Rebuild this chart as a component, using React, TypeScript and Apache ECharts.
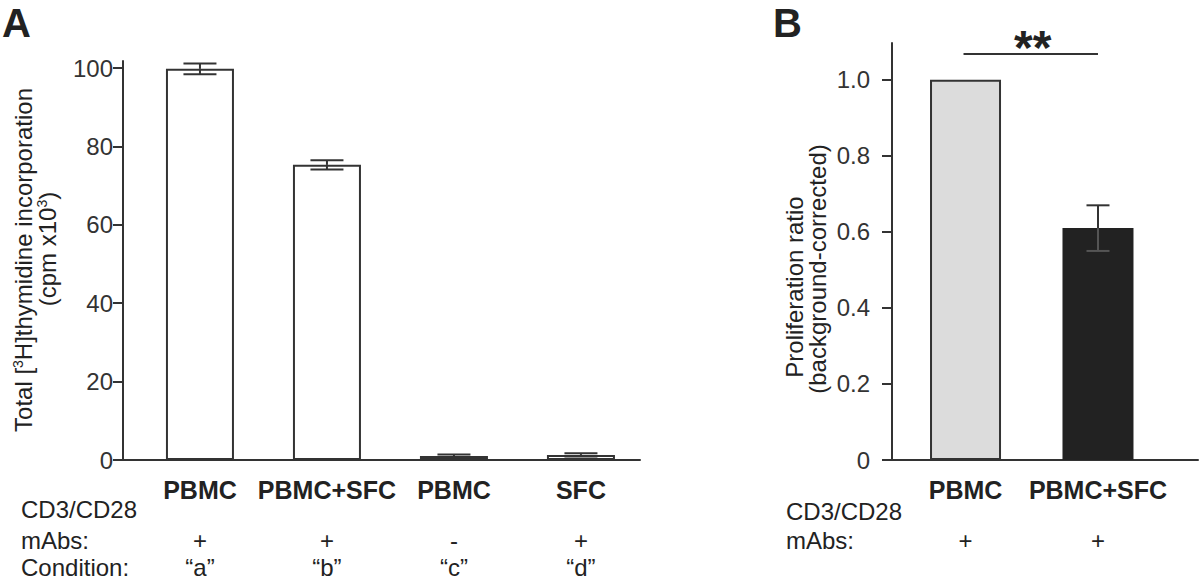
import React, { useEffect, useRef } from "react";
import * as echarts from "echarts";

// ---------- data ----------
const catsA = ["PBMC", "PBMC+SFC", "PBMC", "SFC"];
const valuesA = [99.8, 75.3, 1.0, 1.3];
const errA = [1.35, 1.2, 0.4, 0.4];
const mAbsA = ["+", "+", "-", "+"];
const conditionsA = ["\u201ca\u201d", "\u201cb\u201d", "\u201cc\u201d", "\u201cd\u201d"];
const ticksA = [0, 20, 40, 60, 80, 100];

const catsB = ["PBMC", "PBMC+SFC"];
const valuesB = [1.0, 0.61];
const errB = [0, 0.06];
const mAbsB = ["+", "+"];
const ticksB = [0, 0.2, 0.4, 0.6, 0.8, 1.0];
const colorsB = ["#dcdcdc", "#222222"];
const sigPair = [0, 1];
const sigLevel = 1.068;
const sigText = "**";

const FONT = "'Liberation Sans', Arial, Helvetica, sans-serif";
const INK = "#222";
const AXIS = "#333";

export default function App() {
  const ref = useRef<HTMLDivElement>(null);

  useEffect(() => {
    if (!ref.current) return;
    const chart = echarts.init(ref.current, null, { renderer: "svg" });

    const xA = { min: -0.606, max: 3.465 };
    const xB = { min: -0.555, max: 1.755 };

    const mkXAxis = (
      grid: number,
      range: { min: number; max: number },
      labels: string[],
      margin: number,
      main: boolean,
      bold: boolean,
      lineHeight?: number
    ) => ({
      type: "value",
      gridIndex: grid,
      position: "bottom",
      min: range.min,
      max: range.max,
      axisLine: { show: main, onZero: false, lineStyle: { color: AXIS, width: 2 } },
      axisTick: { show: false },
      splitLine: { show: false },
      axisLabel: {
        customValues: labels.map((_, i) => i),
        formatter: (v: number) => labels[Math.round(v)] ?? "",
        margin,
        verticalAlign: "middle",
        color: INK,
        fontFamily: FONT,
        fontSize: bold ? 25 : 24,
        fontWeight: bold ? "bold" : "normal",
        ...(lineHeight ? { lineHeight } : {}),
      },
    });

    const mkYAxis = (
      grid: number,
      max: number,
      ticks: number[],
      margin: number,
      fmt: (v: number) => string
    ) => ({
      type: "value",
      gridIndex: grid,
      min: 0,
      max,
      axisLine: { show: true, onZero: false, lineStyle: { color: AXIS, width: 2 } },
      axisTick: {
        show: true,
        customValues: ticks,
        length: 10,
        lineStyle: { color: AXIS, width: 2 },
      },
      splitLine: { show: false },
      axisLabel: {
        customValues: ticks,
        formatter: fmt,
        margin,
        color: "#333",
        fontFamily: FONT,
        fontSize: 24,
      },
    });

    const errRender = (capHalf: number, upColor: string, lowColor: string) =>
      (params: any, api: any) => {
        const x = api.value(0);
        const m = api.value(1);
        const e = api.value(2);
        if (!e) return { type: "group", children: [] };
        const mid = api.coord([x, m]);
        const top = api.coord([x, m + e]);
        const bot = api.coord([x, m - e]);
        const up = { stroke: upColor, lineWidth: 2 };
        const lo = { stroke: lowColor, lineWidth: 2 };
        return {
          type: "group",
          children: [
            { type: "line", shape: { x1: mid[0], y1: mid[1], x2: top[0], y2: top[1] }, style: up },
            { type: "line", shape: { x1: mid[0], y1: mid[1], x2: bot[0], y2: bot[1] }, style: lo },
            { type: "line", shape: { x1: top[0] - capHalf, y1: top[1], x2: top[0] + capHalf, y2: top[1] }, style: up },
            { type: "line", shape: { x1: bot[0] - capHalf, y1: bot[1], x2: bot[0] + capHalf, y2: bot[1] }, style: lo },
          ],
        };
      };

    const rowLabel = (text: string, x: number, y: number, lh = 24) => ({
      type: "text",
      x,
      y,
      style: {
        text,
        fill: INK,
        fontFamily: FONT,
        fontSize: 24,
        lineHeight: lh,
        align: "left",
        verticalAlign: "middle",
      },
    });

    const vTitle = (text: string, x: number, y: number) => ({
      type: "text",
      x,
      y,
      rotation: Math.PI / 2,
      style: {
        text,
        fill: INK,
        fontFamily: FONT,
        fontSize: 24,
        align: "center",
        verticalAlign: "middle",
        rich: {
          sup: { fontFamily: FONT, fontSize: 14, fill: INK, verticalAlign: "top", lineHeight: 24 },
        },
      },
    });

    const option: any = {
      animation: false,
      backgroundColor: "#fff",
      grid: [
        { left: 123, top: 61, width: 517, height: 399, outerBoundsMode: "none", containLabel: false },
        { left: 892, top: 43, width: 306, height: 417, outerBoundsMode: "none", containLabel: false },
      ],
      xAxis: [
        mkXAxis(0, xA, catsA, 30, true, true),
        mkXAxis(0, xA, mAbsA, 80, false, false),
        mkXAxis(0, xA, conditionsA, 107, false, false, 22),
        mkXAxis(1, xB, catsB, 30, true, true),
        mkXAxis(1, xB, mAbsB, 80, false, false),
      ],
      yAxis: [
        mkYAxis(0, 101.8, ticksA, 10, (v) => String(Math.round(v))),
        mkYAxis(1, 1.097, ticksB, 22, (v) => (v === 0 ? "0" : v.toFixed(1))),
      ],
      series: [
        {
          type: "bar",
          xAxisIndex: 0,
          yAxisIndex: 0,
          barWidth: 68,
          data: valuesA.map((v, i) => [i, v]),
          itemStyle: { color: "#fff", borderColor: AXIS, borderWidth: 2 },
        },
        {
          type: "custom",
          xAxisIndex: 0,
          yAxisIndex: 0,
          data: valuesA.map((v, i) => [i, v, errA[i]]),
          encode: { x: 0, y: 1 },
          renderItem: errRender(16.5, AXIS, AXIS),
          z: 5,
        },
        {
          type: "bar",
          xAxisIndex: 3,
          yAxisIndex: 1,
          barWidth: 71,
          data: valuesB.map((v, i) => ({
            value: [i, v],
            itemStyle: { color: colorsB[i], borderColor: i === 0 ? AXIS : colorsB[i], borderWidth: 2 },
          })),
        },
        {
          type: "custom",
          xAxisIndex: 3,
          yAxisIndex: 1,
          data: valuesB.map((v, i) => [i, v, errB[i]]),
          encode: { x: 0, y: 1 },
          renderItem: errRender(11.5, AXIS, "#555"),
          z: 5,
        },
        {
          type: "custom",
          xAxisIndex: 3,
          yAxisIndex: 1,
          data: [[sigPair[0], sigPair[1], sigLevel]],
          encode: { x: [0, 1], y: 2 },
          renderItem: (params: any, api: any) => {
            const p1 = api.coord([api.value(0), api.value(2)]);
            const p2 = api.coord([api.value(1), api.value(2)]);
            return {
              type: "group",
              children: [
                {
                  type: "line",
                  shape: { x1: p1[0] - 2, y1: p1[1], x2: p2[0], y2: p2[1] },
                  style: { stroke: AXIS, lineWidth: 2 },
                },
                {
                  type: "text",
                  x: (p1[0] + p2[0]) / 2 + 1,
                  y: p1[1] - 6.5,
                  style: {
                    text: sigText,
                    fill: INK,
                    fontFamily: FONT,
                    fontSize: 48,
                    fontWeight: "bold",
                    lineHeight: 30,
                    align: "center",
                    verticalAlign: "middle",
                  },
                },
              ],
            };
          },
        },
      ],
      graphic: [
        {
          type: "text",
          x: 2,
          y: 23,
          style: {
            text: "A",
            fill: INK,
            fontFamily: FONT,
            fontSize: 40,
            fontWeight: "bold",
            lineHeight: 40,
            align: "left",
            verticalAlign: "middle",
          },
        },
        {
          type: "text",
          x: 773,
          y: 23,
          style: {
            text: "B",
            fill: INK,
            fontFamily: FONT,
            fontSize: 40,
            fontWeight: "bold",
            lineHeight: 40,
            align: "left",
            verticalAlign: "middle",
          },
        },
        vTitle("Total [{sup|3}H]thymidine incorporation", 23, 260),
        vTitle("(cpm x10{sup|3})", 47, 249),
        vTitle("Proliferation ratio", 794, 287),
        vTitle("(background-corrected)", 817, 269),
        rowLabel("CD3/CD28", 21, 509),
        rowLabel("mAbs:", 21, 540),
        rowLabel("Condition:", 21, 567, 22),
        rowLabel("CD3/CD28", 786, 511),
        rowLabel("mAbs:", 786, 540),
      ],
    };

    chart.setOption(option);
    return () => chart.dispose();
  }, []);

  return (
    <div
      ref={ref}
      style={{ position: "absolute", left: 0, top: 0, width: 1200, height: 580 }}
    />
  );
}
